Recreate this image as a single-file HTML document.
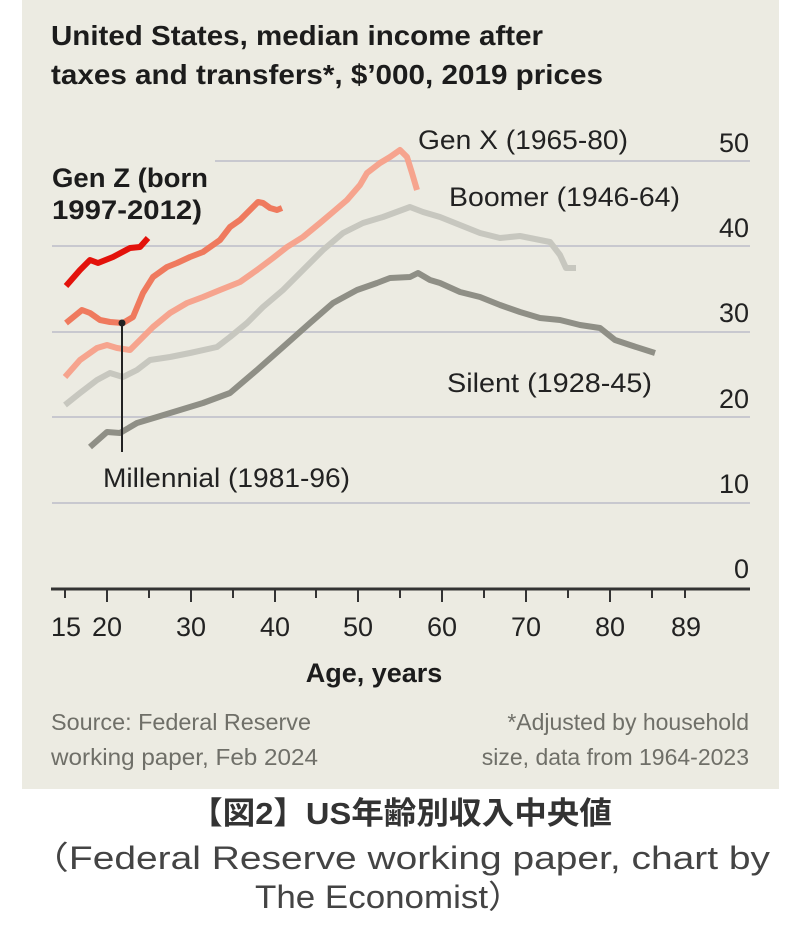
<!DOCTYPE html>
<html><head><meta charset="utf-8"><style>
html,body{margin:0;padding:0;background:#fff;width:802px;height:940px;overflow:hidden}
svg{display:block}
</style></head><body>
<svg width="802" height="940" viewBox="0 0 802 940" xmlns="http://www.w3.org/2000/svg" font-family="'Liberation Sans', sans-serif">
<rect x="22" y="0" width="757" height="789" fill="#ecebe2"/>
<g fill="#1c1c1c">
<text x="51" y="45" font-size="28" font-weight="bold" textLength="492" lengthAdjust="spacingAndGlyphs">United States, median income after</text>
<text x="51" y="84" font-size="28" font-weight="bold" textLength="552" lengthAdjust="spacingAndGlyphs">taxes and transfers*, $’000, 2019 prices</text>
</g>
<g stroke="#c8c8cf" stroke-width="2">
<line x1="215" y1="161" x2="750" y2="161"/>
<line x1="52" y1="246" x2="750" y2="246"/>
<line x1="52" y1="332" x2="750" y2="332"/>
<line x1="52" y1="417" x2="750" y2="417"/>
<line x1="52" y1="503" x2="750" y2="503"/>
</g>
<g fill="#222" font-size="27" text-anchor="end">
<text x="749" y="152">50</text>
<text x="749" y="237">40</text>
<text x="749" y="322">30</text>
<text x="749" y="408">20</text>
<text x="749" y="493">10</text>
<text x="749" y="578">0</text>
</g>
<line x1="51" y1="589" x2="750" y2="589" stroke="#333" stroke-width="3"/>
<g stroke="#333" stroke-width="2">
<line x1="65" y1="589" x2="65" y2="598"/><line x1="107" y1="589" x2="107" y2="602"/>
<line x1="149" y1="589" x2="149" y2="598"/><line x1="191" y1="589" x2="191" y2="602"/>
<line x1="233" y1="589" x2="233" y2="598"/><line x1="275" y1="589" x2="275" y2="602"/>
<line x1="316" y1="589" x2="316" y2="598"/><line x1="358" y1="589" x2="358" y2="602"/>
<line x1="400" y1="589" x2="400" y2="598"/><line x1="442" y1="589" x2="442" y2="602"/>
<line x1="484" y1="589" x2="484" y2="598"/><line x1="526" y1="589" x2="526" y2="602"/>
<line x1="568" y1="589" x2="568" y2="598"/><line x1="610" y1="589" x2="610" y2="602"/>
<line x1="652" y1="589" x2="652" y2="598"/><line x1="685" y1="589" x2="685" y2="598"/>
</g>
<g fill="#222" font-size="27" text-anchor="middle">
<text x="66" y="636">15</text><text x="107" y="636">20</text><text x="191" y="636">30</text>
<text x="275" y="636">40</text><text x="358" y="636">50</text><text x="442" y="636">60</text>
<text x="526" y="636">70</text><text x="610" y="636">80</text><text x="686" y="636">89</text>
</g>
<text x="374" y="682" font-size="27" fill="#1c1c1c" text-anchor="middle" font-weight="bold">Age, years</text>
<g fill="none" stroke-linejoin="round" stroke-linecap="butt" stroke-width="6">
<polyline stroke="#8f8f86" points="90,447 107,432 120,433 137,423 157,417 180,410 203,403 230,393 257,370 283,347 310,323 333,303 357,290 377,283 390,278 410,277 418,273 430,280 440,283 460,292 480,297 500,305 520,312 540,318 560,320 580,325 600,328 615,340 630,345 655,353"/>
<polyline stroke="#c7c7bf" points="65,405 80,393 97,380 110,373 123,377 137,370 150,360 170,357 190,353 217,347 230,337 247,323 263,307 283,290 303,270 323,250 343,233 363,223 383,217 410,207 423,212 440,217 460,225 480,233 500,238 520,236 540,240 550,242 560,255 566,268 576,268"/>
<polyline stroke="#f6a48e" points="65,377 80,360 97,348 107,345 117,348 130,350 140,340 153,327 170,313 187,303 203,297 220,290 240,282 257,270 273,258 287,247 303,237 320,223 333,212 347,200 360,185 367,173 380,163 390,157 400,150 407,157 412,173 417,190"/>
<polyline stroke="#ef7a5e" points="66,323 82,310 90,313 100,320 110,322 123,323 133,317 143,293 153,277 167,267 177,263 190,257 203,252 220,240 230,227 240,220 250,210 258,202 263,203 270,208 277,210 282,208"/>
<polyline stroke="#e3120b" points="66,286 80,270 90,260 98,263 113,257 130,248 140,247 148,238"/>
</g>
<line x1="122" y1="323" x2="122" y2="452" stroke="#222" stroke-width="2"/>
<circle cx="122" cy="323" r="3.5" fill="#222"/>
<g fill="#222" font-size="27">
<text x="103" y="487" textLength="247" lengthAdjust="spacingAndGlyphs">Millennial (1981-96)</text>
<text x="418" y="149" textLength="210" lengthAdjust="spacingAndGlyphs">Gen X (1965-80)</text>
<text x="449" y="206" textLength="231" lengthAdjust="spacingAndGlyphs">Boomer (1946-64)</text>
<text x="447" y="392" textLength="205" lengthAdjust="spacingAndGlyphs">Silent (1928-45)</text>
</g>
<g fill="#1c1c1c" font-size="27" font-weight="bold">
<text x="52" y="187" textLength="156" lengthAdjust="spacingAndGlyphs">Gen Z (born</text>
<text x="52" y="219" textLength="150" lengthAdjust="spacingAndGlyphs">1997-2012)</text>
</g>
<g fill="#6f6f68" font-size="23">
<text x="51" y="730" textLength="260" lengthAdjust="spacingAndGlyphs">Source: Federal Reserve</text>
<text x="51" y="765" textLength="267" lengthAdjust="spacingAndGlyphs">working paper, Feb 2024</text>
<text x="749" y="730" text-anchor="end">*Adjusted by household</text>
<text x="749" y="765" text-anchor="end">size, data from 1964-2023</text>
</g>
<text x="190" y="824" font-size="31" font-weight="bold" fill="#333" textLength="422" lengthAdjust="spacingAndGlyphs" font-family="'Liberation Sans','Noto Sans CJK JP',sans-serif">【図2】US年齢別収入中央値</text>
<g font-size="32" fill="#444" font-family="'Liberation Sans','Noto Sans CJK JP',sans-serif">
<text x="30" y="869" textLength="740" lengthAdjust="spacingAndGlyphs">（Federal Reserve working paper, chart by</text>
<text x="255" y="908" textLength="268" lengthAdjust="spacingAndGlyphs">The Economist）</text>
</g>
</svg>
</body></html>
